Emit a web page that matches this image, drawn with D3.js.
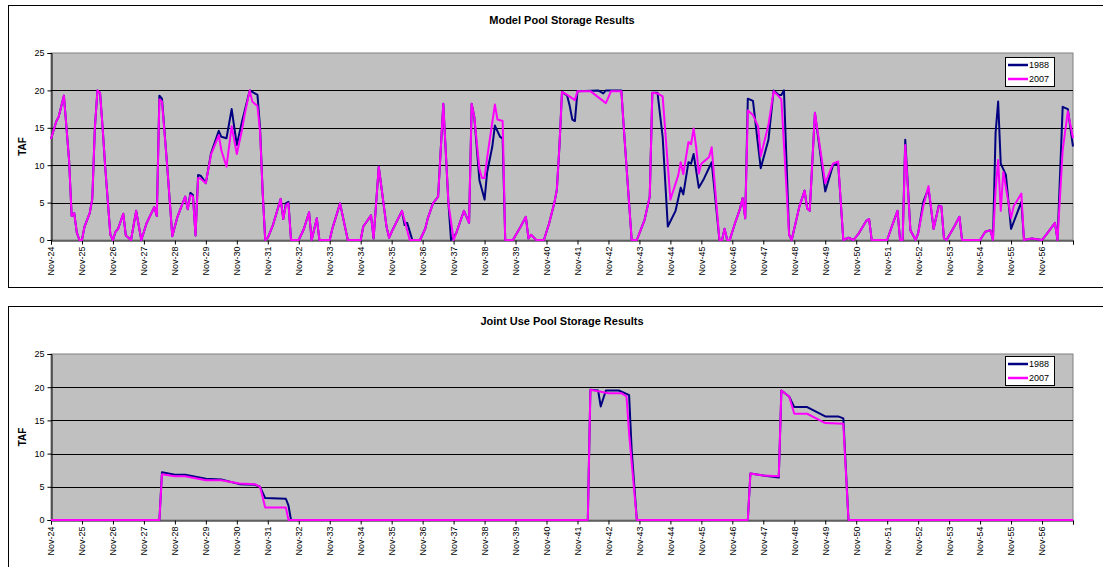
<!DOCTYPE html>
<html>
<head>
<meta charset="utf-8">
<script src="https://cdn.jsdelivr.net/npm/d3@7"></script>
<style>
	body { margin: 0; background: #fff; }
	text { font-family: Arial, "Liberation Sans", sans-serif; }
</style>
</head>
<body>
<div class="charts"></div>
<script>
var outerW = 1103,
	outerH = 567;

// Months counted from Nov-24 (0) to Nov-57 (396)
var startYear = 24;
var years = d3.range(0, 34);
var yTicks = [0, 5, 10, 15, 20, 25];
var seriesNames = ["1988", "2007"];
var seriesColors = ["#000080", "#ff00ff"];

// Model pool storage, TAF  [month, value]
var model1988 = [[0,13.5],[2,15.8],[3,16.5],[5,19.3],[7,10.7],[8,3.2],[9,3.6],[10,1.0],[11,0],[12,0],[13,1.8],[15,3.6],[16,5.5],[17,15],[18,20],[19,19.7],[20,15],[21,9.8],[23,0.7],[24,0],[25,1.1],[26,1.5],[28,3.5],[29,0.6],[31,0],[33,3.9],[35,0],[37,2.2],[40,4.4],[41,3.2],[42,19.3],[43,18.9],[45,10],[47,0.5],[49,3.1],[52,5.8],[53,4.1],[54,6.3],[55,6.0],[56,0.6],[57,8.7],[58,8.6],[60,7.6],[62,11.6],[65,14.6],[66,13.8],[68,13.6],[70,17.5],[72,12.7],[74,15.8],[75,17.2],[77,20],[80,19.4],[81,15],[82,6.5],[83,0],[84,0.3],[86,2.0],[89,5.5],[90,2.8],[91,4.9],[92,5.1],[93,0],[96,0],[98,1.5],[100,3.7],[101,0],[103,2.9],[104,0],[108,0],[109,1.5],[112,4.9],[115,0],[120,0],[121,1.8],[124,3.3],[125,0.2],[127,9.8],[130,1.8],[131,0.3],[132,1.1],[136,3.9],[137,2.0],[138,2.3],[140,0],[143,0],[145,1.5],[146,2.9],[148,4.9],[150,5.8],[152,18.2],[154,4.9],[155,0],[157,0.9],[160,3.9],[162,2.3],[163,18.2],[164,16.5],[166,8.0],[168,5.4],[169,9.1],[171,12.5],[172,15.3],[174,13.8],[175,13.6],[176,0],[179,0],[182,1.8],[184,3.1],[185,0.2],[186,0.7],[188,0],[191,0],[193,2.2],[195,4.9],[196,6.7],[197,12.5],[198,19.8],[200,19.3],[201,17.9],[202,16.1],[203,15.9],[204,19.9],[212,20],[214,19.6],[215,20],[221,20],[222,14.7],[225,0],[227,0],[230,2.7],[232,5.8],[233,19.7],[235,19.7],[237,13.8],[239,1.8],[242,3.9],[244,7.0],[245,6.1],[247,10.4],[248,10.2],[249,11.5],[251,7.0],[253,8.2],[256,10.4],[259,0],[260,0],[261,1.5],[262,0],[263,0],[265,2.2],[267,4.2],[268,5.6],[269,2.9],[270,18.9],[272,18.6],[275,9.6],[278,13.4],[280,20],[282,19.4],[283,19.4],[284,20],[286,0.7],[287,0],[290,4.5],[292,6.6],[293,4.2],[294,3.9],[296,17.0],[300,6.5],[303,10.0],[305,10.2],[307,0],[309,0.3],[311,0],[313,0.9],[316,2.6],[317,2.8],[318,0],[324,0],[326,2.0],[328,3.9],[329,0],[330,0],[331,13.4],[333,1.3],[335,0],[336,0.9],[338,5.1],[340,6.9],[342,1.5],[344,4.6],[345,4.5],[346,0.2],[347,0],[350,1.8],[352,3.1],[353,0],[360,0],[362,1.1],[364,1.3],[365,0],[366,14.3],[367,18.5],[368,10.2],[370,8.7],[372,1.5],[376,5.1],[377,0],[380,0.2],[384,0],[386,0.9],[389,2.3],[390,0],[392,17.8],[394,17.5],[396,12.5]];

var model2007 = [[0,13.5],[2,15.8],[3,16.5],[5,19.3],[7,10.7],[8,3.2],[9,3.6],[10,1.0],[11,0],[12,0],[13,1.8],[15,3.6],[16,5.5],[17,15],[18,20],[19,19.7],[20,15],[21,9.8],[23,0.7],[24,0],[25,1.1],[26,1.5],[28,3.5],[29,0.6],[31,0],[33,3.9],[35,0],[37,2.2],[40,4.4],[41,3.2],[42,18.8],[43,18.5],[45,10],[47,0.5],[49,3.1],[52,5.8],[53,4.1],[54,6.0],[55,5.8],[56,0.6],[57,8.3],[58,8.2],[60,7.6],[62,11.4],[65,14.0],[66,12.0],[68,9.8],[70,15.2],[72,11.5],[74,14.7],[75,16.7],[77,20],[78,18.5],[80,17.9],[81,14.5],[82,6.5],[83,0],[84,0.3],[86,2.0],[89,5.5],[90,2.8],[91,4.6],[92,4.9],[93,0],[96,0],[98,1.5],[100,3.7],[101,0],[103,2.9],[104,0],[108,0],[109,1.5],[112,4.9],[115,0],[120,0],[121,1.8],[124,3.3],[125,0.2],[127,9.8],[130,1.8],[131,0.3],[132,1.1],[136,3.9],[139,0],[143,0],[145,1.5],[146,2.9],[148,4.9],[150,5.8],[152,18.2],[154,4.9],[156,0],[157,0.9],[160,3.9],[162,2.3],[163,18.2],[164,16.5],[166,9.5],[167,8.3],[168,8.3],[169,11],[172,18.1],[173,16.1],[175,15.9],[176,0],[179,0],[182,1.8],[184,3.1],[185,0.2],[186,0.7],[188,0],[191,0],[193,2.2],[195,4.9],[196,6.7],[197,12.5],[198,19.8],[200,19.4],[203,18.7],[204,19.9],[209,19.9],[215,18.3],[217,19.9],[221,19.9],[222,14.7],[225,0],[227,0],[230,2.7],[232,5.8],[233,19.7],[235,19.6],[237,19.2],[240,5.4],[243,8.6],[244,10.4],[245,8.8],[247,13.1],[248,12.8],[249,14.9],[250,12.4],[251,8.9],[252,10.2],[255,11.1],[256,12.4],[259,0],[260,0],[261,1.5],[262,0],[263,0],[265,2.2],[267,4.2],[268,5.6],[269,2.9],[270,17.3],[272,16.7],[274,15.2],[275,11.2],[278,15.4],[280,19.9],[282,19.2],[283,18.8],[286,0.7],[287,0],[290,4.5],[292,6.6],[293,4.2],[294,3.9],[296,17.0],[300,7.6],[303,10.2],[305,10.5],[307,0],[309,0.3],[311,0],[313,0.9],[316,2.6],[317,2.8],[318,0],[324,0],[326,2.0],[328,3.9],[329,0],[330,0],[331,12.7],[333,1.3],[335,0],[336,0.9],[338,4.5],[340,7.2],[342,1.5],[344,4.5],[345,4.5],[346,0.2],[347,0],[350,1.8],[352,3.1],[353,0],[360,0],[362,1.1],[364,1.3],[365,0],[366,6.7],[367,10.7],[368,3.9],[369,9.1],[372,2.9],[373,4.5],[376,6.2],[377,0],[380,0.2],[384,0],[386,0.9],[389,2.3],[390,0],[392,12.0],[394,17.2],[396,13.6]];

// Joint use pool storage, TAF  [month, value]
var joint1988 = [[0,0],[42,0],[43,7.2],[48,6.8],[52,6.8],[60,6.2],[66,6.1],[73,5.4],[79,5.3],[81,5.0],[83,3.3],[91,3.2],[92,2.2],[93,0],[208,0],[209,19.6],[212,19.5],[213,17.1],[215,19.5],[220,19.5],[223,19.0],[224,18.8],[225,10.5],[227,0],[270,0],[271,7.0],[276,6.7],[282,6.4],[283,19.5],[286,18.6],[288,17.0],[293,17.0],[300,15.6],[305,15.6],[307,15.3],[309,0],[396,0]];

var joint2007 = [[0,0],[42,0],[43,6.9],[48,6.6],[52,6.6],[60,6.0],[66,6.0],[73,5.5],[79,5.4],[81,5.0],[83,1.9],[91,1.9],[92,0],[208,0],[209,19.6],[212,19.4],[216,19.1],[221,19.1],[223,18.6],[224,13.0],[227,0],[270,0],[271,7.0],[276,6.7],[282,6.6],[283,19.5],[286,18.6],[288,16.0],[293,16.0],[300,14.6],[307,14.5],[309,0],[396,0]];

var svg = d3.select(".charts")
	.append("svg")
	.attr("width", outerW)
	.attr("height", outerH);

var x = d3.scaleLinear()
	.domain([0, 396])
	.range([51, 1073]);

function drawPanel(title, boxTop, plotTop, plotBottom, data, legendTop) {

	var y = d3.scaleLinear()
		.domain([0, 25])
		.range([plotBottom, plotTop]);

	// chart frame
	svg.append("rect")
		.attr("x", 8.5)
		.attr("y", boxTop + 0.5)
		.attr("width", 1100)
		.attr("height", 282)
		.attr("fill", "#fff")
		.attr("stroke", "#000")
		.attr("stroke-width", 1);

	svg.append("text")
		.attr("x", 562)
		.attr("y", boxTop + 19)
		.style("text-anchor", "middle")
		.style("font-size", "11px")
		.style("font-weight", "bold")
		.text(title);

	// plot area
	svg.append("rect")
		.attr("x", x(0))
		.attr("y", plotTop)
		.attr("width", x(396) - x(0))
		.attr("height", plotBottom - plotTop)
		.attr("fill", "#c0c0c0")
		.attr("stroke", "#808080")
		.attr("stroke-width", 1);

	// gridlines
	svg.append("g")
		.selectAll("line")
		.data(yTicks.slice(1, 5))
		.enter()
		.append("line")
		.attr("x1", x(0))
		.attr("x2", x(396))
		.attr("y1", function(d) { return Math.round(y(d)) + 0.5; })
		.attr("y2", function(d) { return Math.round(y(d)) + 0.5; })
		.attr("stroke", "#000")
		.attr("stroke-width", 1);

	// y axis
	var yAxis = svg.append("g")
		.attr("transform", "translate(" + (x(0) + 0.5) + ",0)")
		.call(d3.axisLeft(y).tickValues(yTicks).tickSize(4).tickPadding(3));
	yAxis.selectAll("text")
		.style("font-size", "9px")
		.style("font-family", "Arial, 'Liberation Sans', sans-serif")
		.attr("fill", "#000");
	yAxis.select(".domain").attr("stroke", "#000");

	svg.append("text")
		.attr("transform", "translate(26," + ((plotTop + plotBottom) / 2) + ") rotate(-90)")
		.style("text-anchor", "middle")
		.style("font-size", "10px")
		.style("font-weight", "bold")
		.text("TAF");

	// x axis
	var xAxis = svg.append("g")
		.attr("transform", "translate(0," + (plotBottom + 0.5) + ")")
		.call(d3.axisBottom(x)
			.tickValues(years.map(function(d) { return d * 12; }))
			.tickSize(4)
			.tickFormat(function(d) {
				var yr = startYear + d / 12;
				return yr < 57 ? "Nov-" + yr : "";
			}));
	xAxis.select(".domain").attr("stroke", "#000");
	xAxis.selectAll("text")
		.style("font-size", "9px")
		.style("font-family", "Arial, 'Liberation Sans', sans-serif")
		.attr("fill", "#000")
		.style("text-anchor", "end")
		.attr("transform", "rotate(-90)")
		.attr("x", -6)
		.attr("y", 0)
		.attr("dy", "0.32em");

	// series
	var line = d3.line()
		.x(function(d) { return x(d[0]); })
		.y(function(d) { return y(d[1]); });

	for (let i = 0; i < data.length; i++) {
		svg.append("path")
			.datum(data[i])
			.attr("d", line)
			.attr("fill", "none")
			.attr("stroke", seriesColors[i])
			.attr("stroke-width", 2)
			.attr("stroke-linejoin", "round");
	}

	// legend
	var lg = svg.append("g")
		.attr("transform", "translate(1005," + legendTop + ")");
	lg.append("rect")
		.attr("x", 0.5)
		.attr("y", 0.5)
		.attr("width", 49)
		.attr("height", 29)
		.attr("fill", "#fff")
		.attr("stroke", "#000");
	for (let i = 0; i < seriesNames.length; i++) {
		lg.append("line")
			.attr("x1", 3)
			.attr("x2", 23)
			.attr("y1", 8 + i * 14)
			.attr("y2", 8 + i * 14)
			.attr("stroke", seriesColors[i])
			.attr("stroke-width", 2.5);
		lg.append("text")
			.attr("x", 24)
			.attr("y", 11 + i * 14)
			.style("font-size", "9px")
			.text(seriesNames[i]);
	}
}

drawPanel("Model Pool Storage Results", 5, 53, 240, [model1988, model2007], 57);
drawPanel("Joint Use Pool Storage Results", 306, 354, 520, [joint1988, joint2007], 356);
</script>
</body>
</html>
